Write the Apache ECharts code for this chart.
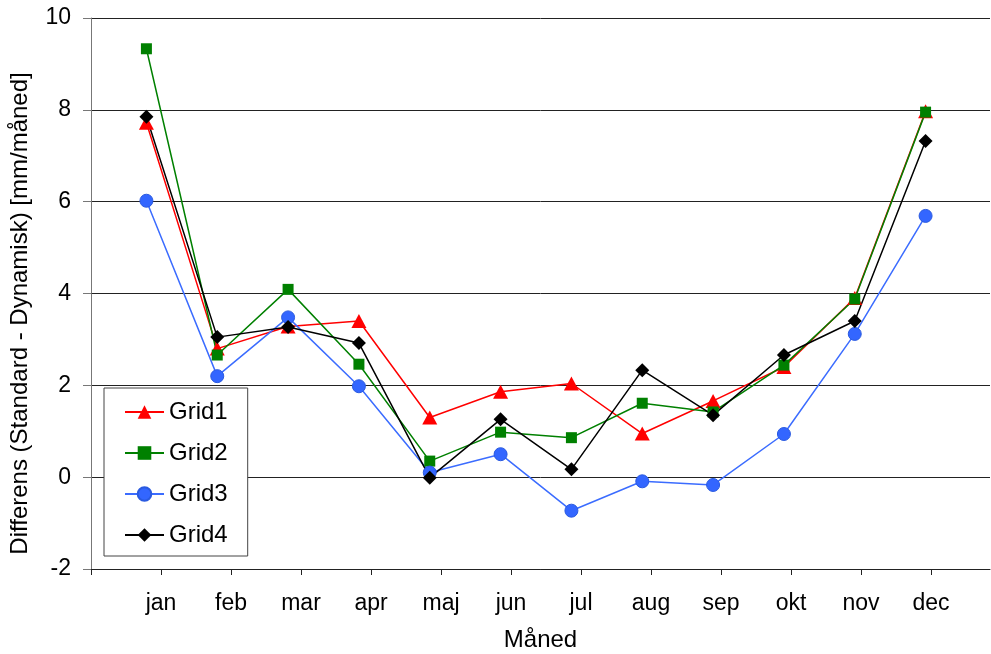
<!DOCTYPE html>
<html>
<head>
<meta charset="utf-8">
<script src="https://cdn.jsdelivr.net/npm/echarts@6/dist/echarts.min.js"></script>
<style>
 html, body { margin: 0; padding: 0; background: #fff; }
 #chart { width: 991px; height: 654px; }
</style>
</head>
<body>
<div id="chart"></div>
<script>
// måneder og data
var months = ['jan','feb','mar','apr','maj','jun','jul','aug','sep','okt','nov','dec'];
var grid1 = [7.72, 2.80, 3.28, 3.40, 1.30, 1.86, 2.04, 0.95, 1.66, 2.40, 3.90, 7.97];
var grid2 = [9.33, 2.66, 4.09, 2.46, 0.35, 0.98, 0.86, 1.61, 1.42, 2.44, 3.88, 7.95];
var grid3 = [6.02, 2.20, 3.48, 1.98, 0.10, 0.50, -0.73, -0.09, -0.17, 0.94, 3.12, 5.69];
var grid4 = [7.85, 3.05, 3.27, 2.92, -0.01, 1.26, 0.17, 2.33, 1.35, 2.66, 3.40, 7.32];

var font = 'Liberation Sans, Arial, sans-serif';
var myChart = echarts.init(document.getElementById('chart'));

// tick-streger ved 0..12, måneds-etiketter ved 1..12
var tickPos = [0];
var labelPos = [];
for (var i = 1; i <= months.length; i++) { tickPos.push(i); labelPos.push(i); }

var option = {
    animation: false,
    backgroundColor: '#fff',
    textStyle: { fontFamily: font, color: '#000' },
    grid: [
        { left: 91, right: 1, top: 18, bottom: 85, outerBoundsMode: 'none' },
        { left: 111, right: 30, top: 18, bottom: 85, outerBoundsMode: 'none' }
    ],
    legend: {
        orient: 'vertical',
        left: 104,
        top: 388,
        padding: [12, 20, 9, 20],
        itemWidth: 39,
        itemHeight: 17,
        itemGap: 17,
        borderColor: '#444',
        borderWidth: 1,
        borderRadius: 0,
        backgroundColor: '#fff',
        textStyle: { fontSize: 24, fontFamily: font, color: '#000' },
        data: ['Grid1', 'Grid2', 'Grid3', 'Grid4']
    },
    xAxis: [
        {
            type: 'value',
            gridIndex: 0,
            min: 0,
            max: 899 / 70,
            name: 'Måned',
            nameLocation: 'middle',
            nameGap: 59,
            nameTextStyle: { fontSize: 24, color: '#000' },
            axisLine: { show: true, onZero: false, lineStyle: { color: '#222', width: 1 } },
            axisTick: { show: true, length: 6, customValues: tickPos, lineStyle: { color: '#222' } },
            axisLabel: {
                customValues: labelPos,
                fontSize: 23, color: '#000', margin: 23,
                formatter: function (v) { return months[Math.round(v) - 1] || ''; }
            },
            splitLine: { show: false }
        },
        {
            type: 'category',
            gridIndex: 1,
            data: months,
            boundaryGap: true,
            show: false
        }
    ],
    yAxis: [
        {
            type: 'value',
            gridIndex: 0,
            min: -2,
            max: 10,
            interval: 2,
            name: 'Differens (Standard - Dynamisk) [mm/måned]',
            nameLocation: 'middle',
            nameGap: 59,
            nameTextStyle: { fontSize: 24, color: '#000', padding: [0, 40, 0, 0] },
            axisLine: { show: true, lineStyle: { color: '#777', width: 1 } },
            axisTick: { show: true, length: 8, lineStyle: { color: '#777' } },
            axisLabel: { fontSize: 23, color: '#000', margin: 20 },
            splitLine: { show: true, lineStyle: { color: '#222', width: 1 } }
        },
        {
            type: 'value',
            gridIndex: 1,
            min: -2,
            max: 10,
            interval: 2,
            show: false,
            splitLine: { show: false }
        }
    ],
    series: [
        {
            name: 'Grid1', type: 'line', xAxisIndex: 1, yAxisIndex: 1,
            data: grid1, symbol: 'triangle', symbolSize: [15, 14],
            lineStyle: { color: '#ff0000', width: 1.5 },
            itemStyle: { color: '#ff0000' }
        },
        {
            name: 'Grid2', type: 'line', xAxisIndex: 1, yAxisIndex: 1,
            data: grid2, symbol: 'rect', symbolSize: 11,
            lineStyle: { color: '#008000', width: 1.5 },
            itemStyle: { color: '#008000' }
        },
        {
            name: 'Grid3', type: 'line', xAxisIndex: 1, yAxisIndex: 1,
            data: grid3, symbol: 'circle', symbolSize: 13,
            lineStyle: { color: '#3b6cff', width: 1.5 },
            itemStyle: { color: '#3366ff', borderColor: '#2a5ae0', borderWidth: 1 }
        },
        {
            name: 'Grid4', type: 'line', xAxisIndex: 1, yAxisIndex: 1,
            data: grid4, symbol: 'diamond', symbolSize: 14,
            lineStyle: { color: '#000000', width: 1.5 },
            itemStyle: { color: '#000000' }
        }
    ]
};

myChart.setOption(option);
</script>
</body>
</html>
